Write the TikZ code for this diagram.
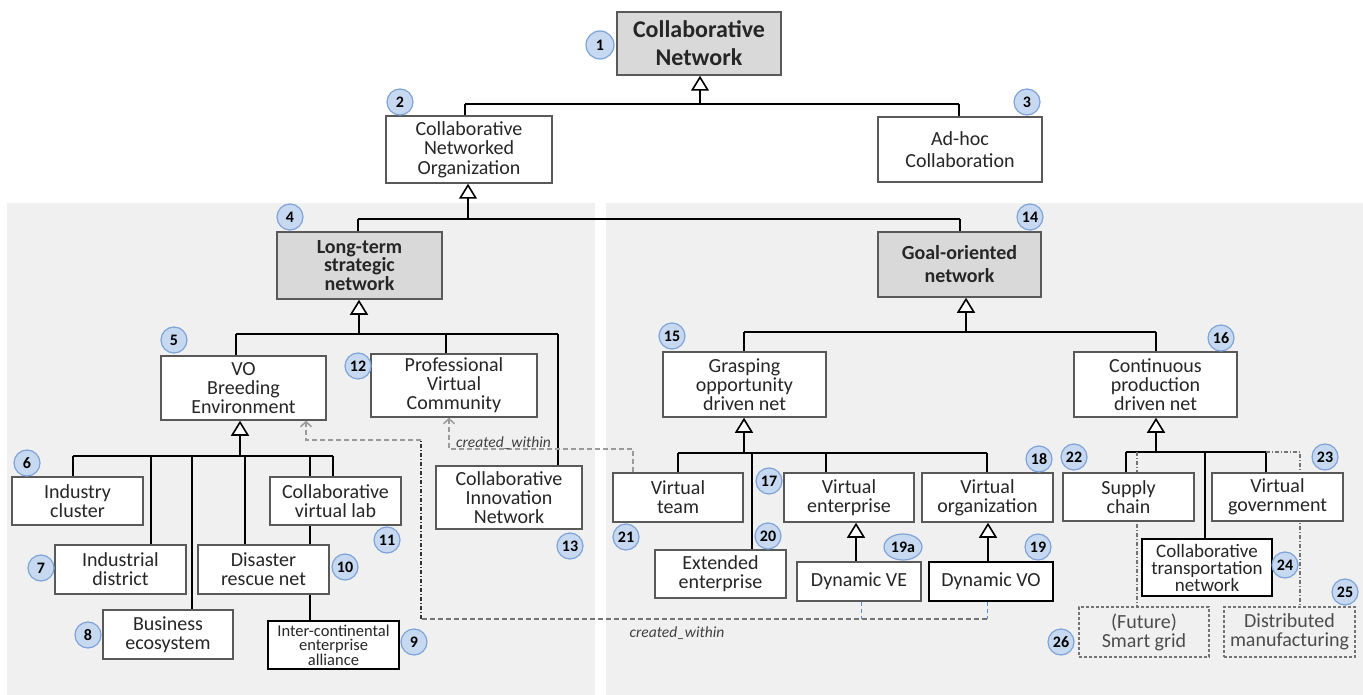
\documentclass[tikz,border=0pt]{standalone}
\usepackage{fontspec}
\setmainfont{Carlito}
\usetikzlibrary{arrows.meta,shapes.geometric}
\pgfdeclarelayer{panels}
\pgfdeclarelayer{links}
\pgfsetlayers{panels,links,main}

\definecolor{panelgrey}{HTML}{F0F0F0}
\definecolor{keygrey}{HTML}{D9D9D9}
\definecolor{badgefill}{HTML}{C6D9F1}
\definecolor{badgeline}{HTML}{7FA3D9}
\definecolor{cwgrey}{HTML}{9A9A9A}
\definecolor{cwblue}{HTML}{5B8BD0}

% box given by its corners: name, x1, y1, x2, y2, style, text
\newcommand\classbox[7]{%
  \node[#6, minimum width={(#4-#2)*1pt}, minimum height={(#5-#3)*1pt}]
    (#1) at ({(#2+#4)/2},{(#3+#5)/2}) {#7};}
% numbered badge: name, x, y, number
\newcommand\numbadge[4]{\node[badge] (#1) at (#2,#3) {#4};}

\begin{document}
\begin{tikzpicture}[x=1pt,y=-1pt,
  box/.style={draw=black!65, line width=1.5pt, fill=white, inner sep=0pt,
    align=center, text=black!85, font=\fontsize{20}{19}\selectfont},
  keybox/.style={box, fill=keygrey, font=\bfseries\fontsize{20}{19}\selectfont},
  darkbox/.style={box, draw=black},
  futurebox/.style={box, draw=black!55, fill=none, densely dashed, line width=1.2pt, text=black!70},
  badge/.style={circle, draw=badgeline, fill=badgefill, line width=1.2pt,
    minimum size=26pt, inner sep=0pt, font=\bfseries\fontsize{16}{16}\selectfont},
  link/.style={draw=black, line width=1.6pt},
  gen/.style={link, -{Triangle[length=15pt,width=18pt,fill=white]}},
  cw/.style={draw=cwgrey, line width=1.5pt, dash pattern=on 5pt off 3pt},
  cwdark/.style={draw=black!80, line width=1.5pt, dash pattern=on 4pt off 2pt on 1pt off 2pt},
  cwshort/.style={draw=cwblue, line width=1pt, dash pattern=on 4pt off 3pt},
  cwarrow/.style={-{Straight Barb[length=5pt,width=11pt]}},
  future/.style={draw=black!55, line width=1.3pt, dash pattern=on 4pt off 2pt on 1pt off 2pt},
  cwlabel/.style={inner sep=0pt, text=black!75, font=\itshape\fontsize{15.5}{15.5}\selectfont}
]
\useasboundingbox (0,0) rectangle (1363,695);

\begin{pgfonlayer}{panels}
  \fill[white] (0,0) rectangle (1363,695);
  \fill[panelgrey] (7,203) rectangle (595,695);
  \fill[panelgrey] (606,203) rectangle (1363,695);
\end{pgfonlayer}

% ---------- classes ----------
\classbox{n1}{617}{12}{781}{75}{keybox, font=\bfseries\fontsize{24}{28}\selectfont}{Collaborative\\Network}
\classbox{n2}{386}{116}{552}{183}{box, font=\fontsize{20}{19.5}\selectfont}{Collaborative\\Networked\\Organization}
\classbox{n3}{878}{117}{1042}{182}{box, font=\fontsize{20}{22}\selectfont}{Ad-hoc\\Collaboration}

\classbox{n4}{277}{232}{442}{299}{keybox, font=\bfseries\fontsize{20}{18.5}\selectfont}{Long-term\\strategic\\network}
\classbox{n14}{878}{232}{1041}{297}{keybox, font=\bfseries\fontsize{20}{23}\selectfont}{Goal-oriented\\network}

\classbox{n5}{161}{356}{326}{420}{box}{VO\\Breeding\\Environment}
\classbox{n12}{371}{354}{537}{417}{box}{Professional\\Virtual\\Community}
\classbox{n13}{436}{466}{582}{529}{box}{Collaborative\\Innovation\\Network}

\classbox{n6}{12}{477}{143}{525}{box}{Industry\\cluster}
\classbox{n7}{55}{545}{186}{594}{box}{Industrial\\district}
\classbox{n8}{103}{610}{233}{659}{box}{Business\\ecosystem}
\classbox{n10}{198}{545}{329}{594}{box}{Disaster\\rescue net}
\classbox{n11}{270}{477}{401}{525}{box}{Collaborative\\virtual lab}
\classbox{n9}{268}{621}{399}{669}{darkbox, font=\fontsize{16.5}{14.5}\selectfont}{Inter-continental\\enterprise\\alliance}

\classbox{n15}{663}{352}{826}{417}{box}{Grasping\\opportunity\\driven net}
\classbox{n16}{1074}{352}{1237}{417}{box}{Continuous\\production\\driven net}

\classbox{n21}{613}{473}{743}{522}{box}{Virtual\\team}
\classbox{n20}{655}{550}{786}{598}{box}{Extended\\enterprise}
\classbox{n17}{784}{473}{914}{522}{box}{Virtual\\enterprise}
\classbox{n18}{922}{473}{1053}{522}{box}{Virtual\\organization}
\classbox{dve}{797}{562}{921}{601}{box}{Dynamic VE}
\classbox{dvo}{929}{562}{1053}{601}{darkbox}{Dynamic VO}

\classbox{n22}{1063}{473}{1194}{521}{box}{Supply\\chain}
\classbox{n23}{1212}{473}{1343}{521}{box}{Virtual\\government}
\classbox{n24}{1142}{539}{1272}{596}{darkbox, font=\fontsize{19}{17}\selectfont}{Collaborative\\transportation\\network}
\classbox{n26}{1079}{607}{1209}{657}{futurebox}{(Future)\\Smart grid}
\classbox{n25}{1224}{607}{1355}{657}{futurebox}{Distributed\\manufacturing}

% ---------- numbered badges ----------
\node[badge, minimum size=28pt] (b1) at (600,45) {1};
\numbadge{b2}{400}{102}{2}
\numbadge{b3}{1027}{102}{3}
\numbadge{b4}{290}{217}{4}
\numbadge{b14}{1030}{217}{14}
\numbadge{b5}{174}{340}{5}
\numbadge{b12}{358}{366}{12}
\numbadge{b13}{570}{546}{13}
\numbadge{b6}{27}{463}{6}
\numbadge{b7}{41}{568}{7}
\numbadge{b8}{88}{635}{8}
\numbadge{b9}{414}{642}{9}
\numbadge{b10}{345}{567}{10}
\numbadge{b11}{387}{540}{11}
\numbadge{b15}{672}{336}{15}
\numbadge{b16}{1221}{338}{16}
\numbadge{b17}{769}{481}{17}
\numbadge{b18}{1039}{459}{18}
\node[badge, ellipse, minimum width=38pt, minimum height=26pt] (b19a) at (903,547) {19a};
\numbadge{b19}{1038}{547}{19}
\numbadge{b20}{768}{536}{20}
\numbadge{b21}{626}{537}{21}
\numbadge{b22}{1074}{457}{22}
\numbadge{b23}{1325}{457}{23}
\numbadge{b24}{1285}{565}{24}
\numbadge{b25}{1345}{592}{25}
\numbadge{b26}{1061}{642}{26}

% ---------- labels ----------
\node[cwlabel, anchor=base west] (lab1) at (456,447) {created\_within};
\node[cwlabel] (lab2) at (677,633) {created\_within};

\begin{pgfonlayer}{links}
  % Collaborative Network
  \coordinate (j1) at (700,104);
  \coordinate (j1a) at (465,104);
  \coordinate (j1b) at (959,104);
  \draw[gen] (j1) -- (j1 |- n1.south);
  \draw[link] (j1a) -- (j1b);
  \draw[link] (j1a) -- (j1a |- n2.north);
  \draw[link] (j1b) -- (j1b |- n3.north);

  % Collaborative Networked Organization
  \coordinate (j2) at (468,219);
  \coordinate (j2a) at (358,219);
  \coordinate (j2b) at (960,219);
  \draw[gen] (j2) -- (j2 |- n2.south);
  \draw[link] (j2a) -- (j2b);
  \draw[link] (j2a) -- (j2a |- n4.north);
  \draw[link] (j2b) -- (j2b |- n14.north);

  % Long-term strategic network
  \coordinate (j4) at (359,334);
  \coordinate (j4a) at (236,334);
  \coordinate (j4b) at (446,334);
  \coordinate (j4c) at (558,334);
  \draw[gen] (j4) -- (j4 |- n4.south);
  \draw[link] (j4a) -- (j4c);
  \draw[link] (j4a) -- (j4a |- n5.north);
  \draw[link] (j4b) -- (j4b |- n12.north);
  \draw[link] (j4c) -- (j4c |- n13.north);

  % VO Breeding Environment
  \coordinate (j5) at (240,456);
  \coordinate (j5a) at (73,456);
  \coordinate (j5b) at (151,456);
  \coordinate (j5c) at (192,456);
  \coordinate (j5d) at (245,456);
  \coordinate (j5e) at (310,456);
  \coordinate (j5f) at (333,456);
  \draw[gen] (j5) -- (j5 |- n5.south);
  \draw[link] (j5a) -- (j5f);
  \draw[link] (j5a) -- (j5a |- n6.north);
  \draw[link] (j5b) -- (j5b |- n7.north);
  \draw[link] (j5c) -- (j5c |- n8.north);
  \draw[link] (j5d) -- (j5d |- n10.north);
  \draw[link] (j5e) -- (j5e |- n11.north);
  \draw[link] (j5f) -- (j5f |- n11.north);
  \draw[link] (j5e |- n11.south) -- (j5e |- n10.north);
  \draw[link] (j5e |- n10.south) -- (j5e |- n9.north);

  % Goal-oriented network
  \coordinate (j14) at (966,332);
  \coordinate (j14a) at (744,332);
  \coordinate (j14b) at (1156,332);
  \draw[gen] (j14) -- (j14 |- n14.south);
  \draw[link] (j14a) -- (j14b);
  \draw[link] (j14a) -- (j14a |- n15.north);
  \draw[link] (j14b) -- (j14b |- n16.north);

  % Grasping opportunity driven net
  \coordinate (j15) at (744,453);
  \coordinate (j15a) at (678,453);
  \coordinate (j15b) at (752,453);
  \coordinate (j15c) at (826,453);
  \coordinate (j15d) at (987,453);
  \draw[gen] (j15) -- (j15 |- n15.south);
  \draw[link] (j15a) -- (j15d);
  \draw[link] (j15a) -- (j15a |- n21.north);
  \draw[link] (j15b) -- (j15b |- n20.north);
  \draw[link] (j15c) -- (j15c |- n17.north);
  \draw[link] (j15d) -- (j15d |- n18.north);

  % Virtual enterprise / Virtual organization
  \coordinate (j17) at (856,0);
  \coordinate (j18) at (988,0);
  \draw[gen] (j17 |- dve.north) -- (j17 |- n17.south);
  \draw[gen] (j18 |- dvo.north) -- (j18 |- n18.south);

  % Continuous production driven net
  \coordinate (j16) at (1156,452);
  \coordinate (j16a) at (1126,452);
  \coordinate (j16b) at (1205,452);
  \coordinate (j16c) at (1266,452);
  \draw[gen] (j16) -- (j16 |- n16.south);
  \draw[link] (j16a) -- (j16c);
  \draw[link] (j16a) -- (j16a |- n22.north);
  \draw[link] (j16b) -- (j16b |- n24.north);
  \draw[link] (j16c) -- (j16c |- n23.north);

  % future branches
  \coordinate (dd1) at (1137,452);
  \coordinate (dd2) at (1300,452);
  \draw[future] (dd1) -- (dd1 |- n26.north);
  \draw[future] (j16c) -- (dd2) -- (dd2 |- n25.north);

  % created_within: Dynamic VE / VO -> VO Breeding Environment
  \coordinate (cwA) at (421,619);
  \coordinate (cwB) at (421,440);
  \coordinate (cwC) at (306,440);
  \coordinate (cwD) at (987,619);
  \coordinate (cwE) at (861,619);
  \draw[cwshort] (cwE |- dve.south) -- (cwE);
  \draw[cwshort] (cwD |- dvo.south) -- (cwD);
  \draw[cw, draw=black!55] (cwD) -- (cwA);
  \draw[cwdark] (cwA) -- (cwB);
  \draw[cw, cwarrow] (cwB) -- (cwC) -- (cwC |- n5.south);

  % created_within: Virtual team -> Professional Virtual Community
  \coordinate (cwF) at (633,449);
  \coordinate (cwG) at (449,449);
  \draw[cw, cwarrow] (cwF |- n21.north) -- (cwF) -- (cwG) -- (cwG |- n12.south);
\end{pgfonlayer}
\end{tikzpicture}
\end{document}
